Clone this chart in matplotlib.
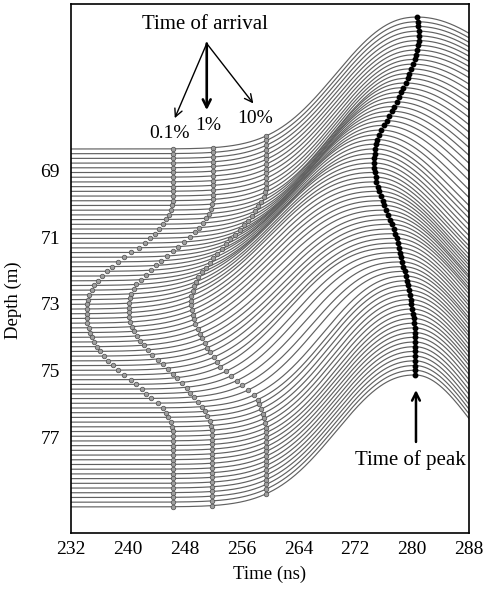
import numpy as np
import matplotlib
matplotlib.use("Agg")
import matplotlib.pyplot as plt

plt.rcParams['font.family'] = ['Liberation Serif', 'DejaVu Serif']

# ---------------- data ----------------
# time of peak (ns) per trace, top to bottom
peak_time = [280.75, 280.8, 280.85, 280.9, 280.9, 280.9, 280.8, 280.7, 280.55, 280.35,
             280.1, 279.85, 279.55, 279.35, 279.1, 278.75, 278.45, 278.1, 277.8, 277.45,
             277.15, 276.8, 276.45, 276.05, 275.6, 275.3, 275.0, 274.85, 274.8, 274.75,
             274.7, 274.7, 274.7, 274.75, 274.85, 274.95, 275.15, 275.4, 275.6, 275.85,
             276.1, 276.35, 276.65, 276.9, 277.15, 277.4, 277.65, 277.85, 278.0, 278.15,
             278.3, 278.45, 278.6, 278.75, 278.95, 279.1, 279.25, 279.4, 279.55, 279.7,
             279.8, 279.9, 280.0, 280.1, 280.2, 280.3, 280.35, 280.4, 280.4, 280.4,
             280.4, 280.4, 280.4, 280.4, 280.4, 280.4, 280.4]
# time of arrival at 10 % of peak
arrival_10 = [259.5, 259.5, 259.5, 259.5, 259.5, 259.5, 259.5, 259.5, 259.5, 259.5,
              259.5, 259.4, 259.3, 259.1, 258.7, 258.3, 257.9, 257.4, 256.9, 256.4,
              255.8, 255.1, 254.4, 253.8, 253.2, 252.5, 252.0, 251.5, 251.0, 250.4,
              249.9, 249.6, 249.3, 249.1, 248.9, 248.9, 248.9, 249.0, 249.1, 249.3,
              249.5, 249.8, 250.2, 250.5, 250.9, 251.2, 251.6, 252.1, 252.6, 253.0,
              253.8, 254.5, 255.3, 256.1, 256.9, 257.8, 258.3, 258.5, 258.8, 259.0,
              259.2, 259.3, 259.4, 259.5, 259.5, 259.5, 259.5, 259.5, 259.5, 259.5,
              259.5, 259.5, 259.5, 259.5, 259.5, 259.5, 259.5]
# time of arrival at 1 %
arrival_1 = [252.0, 252.0, 252.0, 252.0, 252.0, 252.0, 252.0, 252.0, 252.0, 252.0,
             252.0, 252.0, 251.9, 251.7, 251.4, 251.0, 250.6, 250.0, 249.4, 248.8,
             247.9, 247.1, 246.3, 245.5, 244.7, 243.9, 243.2, 242.5, 241.8, 241.1,
             240.8, 240.5, 240.3, 240.1, 240.1, 240.1, 240.2, 240.3, 240.6, 240.9,
             241.3, 241.7, 242.3, 242.8, 243.4, 244.2, 244.9, 245.6, 246.3, 246.9,
             247.6, 248.3, 248.8, 249.3, 249.8, 250.4, 250.9, 251.2, 251.5, 251.7,
             251.8, 251.9, 251.9, 251.9, 251.9, 251.9, 251.9, 251.9, 251.9, 251.9,
             251.9, 251.9, 251.9, 251.9, 251.9, 251.9, 251.9]
# time of arrival at 0.1 %
arrival_01 = [246.4, 246.4, 246.4, 246.4, 246.4, 246.4, 246.4, 246.4, 246.4, 246.4,
              246.4, 246.3, 246.2, 246.0, 245.8, 245.3, 244.9, 244.4, 243.8, 243.1,
              242.4, 241.5, 240.5, 239.5, 238.6, 237.8, 237.1, 236.4, 235.8, 235.3,
              234.9, 234.6, 234.4, 234.2, 234.2, 234.2, 234.2, 234.3, 234.5, 234.7,
              235.0, 235.3, 235.6, 236.1, 236.6, 237.2, 237.9, 238.6, 239.4, 240.4,
              241.2, 242.0, 242.6, 243.2, 244.2, 244.9, 245.4, 245.7, 246.0, 246.2,
              246.3, 246.3, 246.3, 246.3, 246.3, 246.3, 246.3, 246.3, 246.3, 246.3,
              246.3, 246.3, 246.3, 246.3, 246.3, 246.3, 246.3]
# decay width after the peak (ns)
decay_width = [20.0, 20.0, 20.0, 20.0, 20.0, 20.0, 20.0, 20.0, 20.0, 19.8,
               19.5, 19.3, 19.0, 18.8, 18.5, 18.3, 18.0, 17.8, 17.5, 17.3,
               17.0, 16.8, 16.5, 16.3, 16.0, 15.8, 15.6, 15.4, 15.3, 15.1,
               15.0, 14.9, 14.8, 14.7, 14.7, 14.6, 14.5, 14.4, 14.4, 14.3,
               14.2, 14.1, 14.1, 14.0, 13.9, 13.8, 13.8, 13.7, 13.6, 13.5,
               13.5, 13.4, 13.3, 13.2, 13.2, 13.1, 13.0, 12.9, 12.9, 12.8,
               12.7, 12.6, 12.6, 12.5, 12.4, 12.4, 12.3, 12.3, 12.2, 12.2,
               12.1, 12.1, 12.0, 12.0, 12.0, 12.0, 12.0]
depth_top, depth_bottom = 68.37, 79.06   # trace baselines (m)
amplitude = 3.94                          # trace amplitude in depth units
time_ticks = [232, 240, 248, 256, 264, 272, 280, 288]
depth_ticks = [69, 71, 73, 75, 77]

n = len(peak_time)
depths = np.linspace(depth_top, depth_bottom, n)

# ---------------- figure ----------------
fig = plt.figure(figsize=(4.84, 6.01), dpi=100)
ax = fig.add_axes([71 / 484, 1 - 533 / 601, 398 / 484, 529 / 601])

t = np.linspace(232, 288, 1400)
for i in range(n):
    tp, t10, t01, sf = peak_time[i], arrival_10[i], arrival_01[i], decay_width[i]
    p = np.log(3) / np.log((tp - t01) / (tp - t10))
    s = (tp - t10) / np.log(10) ** (1 / p)
    rise = np.exp(-(np.clip(tp - t, 0, None) / s) ** p)
    fall = np.exp(-(np.clip(t - tp, 0, None) / sf) ** 2)
    v = np.where(t <= tp, rise, fall)
    ax.plot(t, depths[i] - amplitude * v, color='0.38', lw=0.85, zorder=1)

mk = dict(ls='none', marker='o', ms=3.3, mfc='0.62', mec='0.3', mew=0.5, zorder=3)
ax.plot(arrival_01, depths - amplitude * 0.001, **mk)
ax.plot(arrival_1, depths - amplitude * 0.01, **mk)
ax.plot(arrival_10, depths - amplitude * 0.1, **mk)
ax.plot(peak_time, depths - amplitude, ls='none', marker='o', ms=3.2,
        mfc='black', mec='black', zorder=4)

ax.set_xlim(232, 288)
ax.set_ylim(79.84, 64.04)
ax.set_xticks(time_ticks)
ax.set_yticks(depth_ticks)
ax.tick_params(axis='x', length=0, labelsize=14, pad=6)
ax.tick_params(axis='y', length=0, labelsize=14, pad=8)
for sp in ax.spines.values():
    sp.set_linewidth(1.2)
ax.set_xlabel('Time (ns)', fontsize=13.5, labelpad=5)
ax.set_ylabel('Depth (m)', fontsize=13.5)
ax.yaxis.set_label_coords(-0.122, 0.44)

# annotations
ax.text(250.85, 64.64, 'Time of arrival', ha='center', va='center', fontsize=15)
apex = (251.1, 65.22)
for tip, lw in [((246.6, 67.45), 1.0), ((251.1, 67.21), 1.9), ((257.65, 67.01), 1.0)]:
    ax.annotate('', xy=tip, xytext=apex,
                arrowprops=dict(arrowstyle='->', lw=lw, color='black',
                                shrinkA=0, shrinkB=0, mutation_scale=14))
ax.text(245.9, 67.9, '0.1%', ha='center', va='center', fontsize=14)
ax.text(251.3, 67.66, '1%', ha='center', va='center', fontsize=14)
ax.text(257.9, 67.45, '10%', ha='center', va='center', fontsize=14)

ax.annotate('', xy=(280.54, 75.57), xytext=(280.54, 77.12),
            arrowprops=dict(arrowstyle='->', lw=1.8, color='black',
                            shrinkA=0, shrinkB=0, mutation_scale=14))
ax.text(279.7, 77.66, 'Time of peak', ha='center', va='center', fontsize=15)

fig.savefig('out.png', dpi=100)
